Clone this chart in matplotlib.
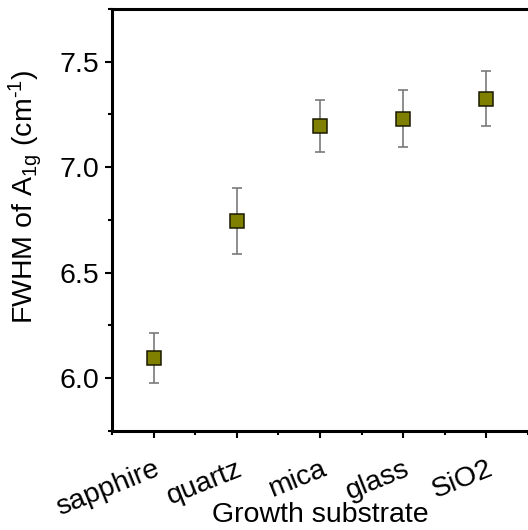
import matplotlib
matplotlib.use("Agg")
import matplotlib.pyplot as plt

# values
substrates = ["sapphire", "quartz", "mica", "glass", "SiO2"]
fwhm = [6.095, 6.745, 7.195, 7.230, 7.325]
fwhm_err = [0.12, 0.157, 0.122, 0.136, 0.13]

plt.rcParams['font.family'] = ['Liberation Sans', 'DejaVu Sans']
plt.rcParams['mathtext.fontset'] = 'custom'
plt.rcParams['mathtext.rm'] = 'Liberation Sans'
plt.rcParams['mathtext.it'] = 'Liberation Sans:italic'
plt.rcParams['font.size'] = 20.5

fig = plt.figure(figsize=(5.28, 5.30), dpi=100)
ax = fig.add_axes([0.212, 0.187, 0.788, 0.796])

x = list(range(len(substrates)))
ax.errorbar(x, fwhm, yerr=fwhm_err, fmt='none', ecolor='#7a7a7a',
            elinewidth=1.2, capsize=3.5, capthick=1.2, zorder=2)
ax.plot(x, fwhm, ls='none', marker='s', ms=10, mfc='#808000',
        mec='#1a1a00', mew=1.1, zorder=3)

ax.set_xlim(-0.5, 4.4)
ax.set_ylim(5.75, 7.75)
ax.set_xticks(x)
ax.set_xticks([i - 0.5 for i in range(6)], minor=True)
ax.set_xticklabels(substrates, rotation=22, ha='right', va='top',
                   rotation_mode='anchor')
ax.set_yticks([6.0, 6.5, 7.0, 7.5])
ax.set_yticks([5.75, 6.25, 6.75, 7.25, 7.75], minor=True)
ax.set_yticklabels(["6.0", "6.5", "7.0", "7.5"])

for side in ['left', 'bottom', 'top']:
    ax.spines[side].set_linewidth(2.2)
ax.spines['right'].set_visible(False)

ax.tick_params(axis='both', which='major', length=5, width=1.5, direction='out')
ax.tick_params(axis='both', which='minor', length=3, width=1.5, direction='out')
ax.tick_params(axis='y', which='major', pad=4)
ax.tick_params(axis='x', which='major', pad=13)

ax.set_xlabel("Growth substrate")
ax.xaxis.set_label_coords(0.5, -0.168)
ax.set_ylabel(r"FWHM of A$_\mathregular{1g}$ (cm$^\mathregular{\text{-}1}$)")
ax.yaxis.set_label_coords(-0.163, 0.555)

fig.savefig("out.png", dpi=100)
